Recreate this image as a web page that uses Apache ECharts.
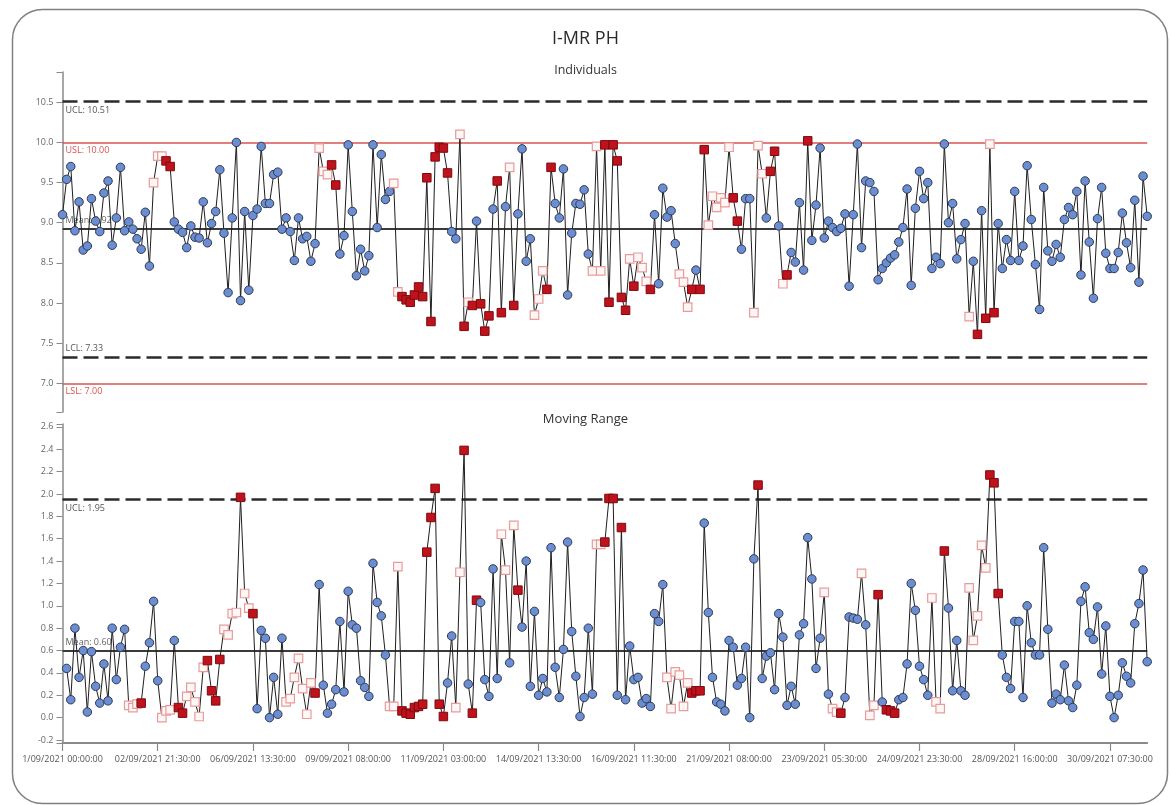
<!DOCTYPE html>
<html>
<head>
<meta charset="utf-8">
<script src="https://cdn.jsdelivr.net/npm/echarts@6/dist/echarts.min.js"></script>
<style>
html,body{margin:0;padding:0;background:#fff;}
#chart{width:1171px;height:805px;}
</style>
</head>
<body>
<div id="chart"></div>
<script>
// ---------- DATA ----------
const tickLabels = [
  '1/09/2021 00:00:00','02/09/2021 21:30:00','06/09/2021 13:30:00','09/09/2021 08:00:00',
  '11/09/2021 03:00:00','14/09/2021 13:30:00','16/09/2021 11:30:00','21/09/2021 08:00:00',
  '23/09/2021 05:30:00','24/09/2021 23:30:00','28/09/2021 16:00:00','30/09/2021 07:30:00'
];
const pointsPerLabel = 23;

const individuals = [
  9.10,9.54,9.70,8.90,9.26,8.66,8.71,9.30,9.02,8.89,
  9.37,9.52,8.72,9.06,9.69,8.90,9.01,8.92,8.80,8.67,
  9.13,8.46,9.50,9.83,9.83,9.77,9.70,9.01,8.92,8.88,
  8.69,8.96,8.82,8.81,9.26,8.75,8.99,9.14,9.66,8.87,
  8.13,9.06,10.00,8.03,9.14,8.16,9.09,9.17,9.95,9.24,
  9.24,9.60,9.63,8.92,9.06,8.89,8.53,9.06,8.80,8.83,
  8.52,8.74,9.93,9.64,9.60,9.72,9.47,8.61,8.84,9.97,
  9.14,8.34,8.67,8.40,8.59,9.97,8.94,9.85,9.29,9.39,
  9.49,8.14,8.08,8.04,8.01,8.10,8.20,8.08,9.56,7.77,
  9.82,9.94,9.93,9.62,8.89,8.80,10.10,7.71,8.01,7.97,
  9.02,7.99,7.65,7.84,9.17,9.52,7.88,9.20,9.69,7.97,
  9.11,9.92,8.52,8.80,7.85,8.05,8.40,8.17,9.69,9.24,
  9.06,9.67,8.10,8.87,9.24,9.23,9.41,8.61,8.40,9.95,
  8.40,9.97,8.01,9.97,9.77,8.07,7.91,8.55,8.21,8.57,
  8.44,8.27,8.17,9.10,8.24,9.43,9.07,9.15,8.74,8.36,
  8.26,7.95,8.17,8.41,8.17,9.91,8.97,9.33,9.19,9.31,
  9.25,9.94,9.31,9.02,8.67,9.30,9.30,7.88,9.96,9.61,
  9.06,9.64,9.89,8.96,8.24,8.35,8.63,8.51,9.25,8.41,
  10.02,8.78,9.22,9.93,8.81,9.02,8.94,8.89,8.93,9.11,
  8.21,9.10,9.98,8.69,9.52,9.50,9.39,8.29,8.43,8.50,
  8.56,8.60,8.76,8.94,9.42,8.22,9.18,9.64,9.30,9.50,
  8.43,8.57,8.49,9.98,9.00,9.24,8.55,8.79,8.99,7.83,
  8.52,7.61,9.15,7.81,9.98,7.88,8.99,8.43,8.79,8.53,
  9.39,8.53,8.71,9.71,9.04,8.48,7.92,9.44,8.65,8.52,
  8.73,8.57,9.04,9.19,9.10,9.39,8.35,9.52,8.76,8.06,
  9.05,9.44,8.62,8.43,8.43,8.63,9.12,8.75,8.44,9.28,
  8.26,9.58,9.08
];

const movingRange = [
  null,0.44,0.16,0.80,0.36,0.60,0.05,0.59,0.28,0.13,
  0.48,0.15,0.80,0.34,0.63,0.79,0.11,0.09,0.12,0.13,
  0.46,0.67,1.04,0.33,0.00,0.06,0.07,0.69,0.09,0.04,
  0.19,0.27,0.14,0.01,0.45,0.51,0.24,0.15,0.52,0.79,
  0.74,0.93,0.94,1.97,1.11,0.98,0.93,0.08,0.78,0.71,
  0.00,0.36,0.03,0.71,0.14,0.17,0.36,0.53,0.26,0.03,
  0.31,0.22,1.19,0.29,0.04,0.12,0.25,0.86,0.23,1.13,
  0.83,0.80,0.33,0.27,0.19,1.38,1.03,0.91,0.56,0.10,
  0.10,1.35,0.06,0.04,0.03,0.09,0.10,0.12,1.48,1.79,
  2.05,0.12,0.01,0.31,0.73,0.09,1.30,2.39,0.30,0.04,
  1.05,1.03,0.34,0.19,1.33,0.35,1.64,1.32,0.49,1.72,
  1.14,0.81,1.40,0.28,0.95,0.20,0.35,0.23,1.52,0.45,
  0.18,0.61,1.57,0.77,0.37,0.01,0.18,0.80,0.21,1.55,
  1.55,1.57,1.96,1.96,0.20,1.70,0.16,0.64,0.34,0.36,
  0.13,0.17,0.10,0.93,0.86,1.19,0.36,0.08,0.41,0.38,
  0.10,0.31,0.22,0.24,0.24,1.74,0.94,0.36,0.14,0.12,
  0.06,0.69,0.63,0.29,0.35,0.63,0.00,1.42,2.08,0.35,
  0.55,0.58,0.25,0.93,0.72,0.11,0.28,0.12,0.74,0.84,
  1.61,1.24,0.44,0.71,1.12,0.21,0.08,0.05,0.04,0.18,
  0.90,0.89,0.88,1.29,0.83,0.02,0.11,1.10,0.14,0.07,
  0.06,0.04,0.16,0.18,0.48,1.20,0.96,0.46,0.34,0.20,
  1.07,0.14,0.08,1.49,0.98,0.24,0.69,0.24,0.20,1.16,
  0.69,0.91,1.54,1.34,2.17,2.10,1.11,0.56,0.36,0.26,
  0.86,0.86,0.18,1.00,0.67,0.56,0.56,1.52,0.79,0.13,
  0.21,0.16,0.47,0.15,0.09,0.29,1.04,1.17,0.76,0.70,
  0.99,0.39,0.82,0.19,0.00,0.20,0.49,0.37,0.31,0.84,
  1.02,1.32,0.50
];

// point status: 0 = in control, 1 = run-rule warning, 2 = out-of-control signal
const individualsFlags = [
  0,0,0,0,0,0,0,0,0,0, 0,0,0,0,0,0,0,0,0,0,
  0,0,1,1,1,2,2,0,0,0, 0,0,0,0,0,0,0,0,0,0,
  0,0,0,0,0,0,0,0,0,0, 0,0,0,0,0,0,0,0,0,0,
  0,0,1,1,1,2,2,0,0,0, 0,0,0,0,0,0,0,0,0,0,
  1,1,2,2,2,2,2,2,2,2, 2,2,2,2,0,0,1,2,1,2,
  0,2,2,2,0,2,2,0,1,2, 0,0,0,0,1,1,1,2,2,0,
  0,0,0,0,0,0,0,0,1,1, 1,2,2,2,2,2,2,1,2,1,
  1,1,2,0,0,0,0,0,0,1, 1,1,2,0,2,2,1,1,1,1,
  1,1,2,2,0,0,0,1,1,1, 0,2,2,0,1,2,0,0,0,0,
  2,0,0,0,0,0,0,0,0,0, 0,0,0,0,0,0,0,0,0,0,
  0,0,0,0,0,0,0,0,0,0, 0,0,0,0,0,0,0,0,0,1,
  0,2,0,2,1,2,0,0,0,0, 0,0,0,0,0,0,0,0,0,0,
  0,0,0,0,0,0,0,0,0,0, 0,0,0,0,0,0,0,0,0,0,
  0,0,0
];

const movingRangeFlags = [
  0,0,0,0,0,0,0,0,0,0, 0,0,0,0,0,0,1,1,1,2,
  0,0,0,0,1,1,1,0,2,2, 1,1,1,1,1,2,2,2,2,1,
  1,1,1,2,1,1,2,0,0,0, 0,0,0,0,1,1,1,1,1,1,
  1,2,0,0,0,0,0,0,0,0, 0,0,0,0,0,0,0,0,0,1,
  1,1,2,2,2,2,2,2,2,2, 2,2,2,0,0,1,1,2,0,2,
  2,0,0,0,0,0,1,1,0,1, 2,0,0,0,0,0,0,0,0,0,
  0,0,0,0,0,0,0,0,0,1, 1,2,2,2,0,2,0,0,0,0,
  0,0,0,0,0,0,1,1,1,1, 1,1,2,2,2,0,0,0,0,0,
  0,0,0,0,0,0,0,0,2,0, 0,0,0,0,0,0,0,0,0,0,
  0,0,0,0,1,0,1,1,2,0, 0,0,0,1,0,1,1,2,0,2,
  2,2,0,0,0,0,0,0,0,0, 1,1,1,2,0,0,0,0,0,1,
  1,1,1,1,2,2,2,0,0,0, 0,0,0,0,0,0,0,0,0,0,
  0,0,0,0,0,0,0,0,0,0, 0,0,0,0,0,0,0,0,0,0,
  0,0,0
];

const individualsLimits = [
  {name:'UCL', value:10.51, kind:'ctrl', side:'below'},
  {name:'USL', value:10.00, kind:'spec', side:'below'},
  {name:'Mean', value:8.92, kind:'mean', side:'above'},
  {name:'LCL', value:7.33, kind:'ctrl', side:'above'},
  {name:'LSL', value:7.00, kind:'spec', side:'below'}
];
const movingRangeLimits = [
  {name:'UCL', value:1.95, kind:'ctrl', side:'below'},
  {name:'Mean', value:0.60, kind:'mean', side:'above'}
];

const individualsTicks = [7.0,7.5,8.0,8.5,9.0,9.5,10.0,10.5];
const movingRangeTicks = [-0.2,0.0,0.2,0.4,0.6,0.8,1.0,1.2,1.4,1.6,1.8,2.0,2.2,2.4,2.6];

// ---------- STYLES ----------
const INDY = {min:6.643, max:10.877};
const MRY = {min:-0.227, max:2.626};
const markerStyles = [
  {symbol:'circle', itemStyle:{color:'#6b8dd1', borderColor:'#2f3b55', borderWidth:1}},
  {symbol:'rect', itemStyle:{color:'#fff6f6', borderColor:'#e79c9c', borderWidth:1.2}},
  {symbol:'rect', itemStyle:{color:'#c0121c', borderColor:'#7c0a0f', borderWidth:1}}
];
const lineStyles = {
  ctrl:{color:'#2b2b2b', width:2.5, type:[15,6]},
  spec:{color:'#d9534f', width:1.5, type:'solid'},
  mean:{color:'#3a3a3a', width:2, type:'solid'}
};
const labelColors = {ctrl:'#555', spec:'#d9534f', mean:'#666'};

function buildPoints(values, flags){
  return values.map((v,i)=>{
    if (v === null) return {value:null};
    const s = markerStyles[flags[i]];
    return {value:v, symbol:s.symbol, itemStyle:s.itemStyle};
  });
}
function buildMarkLines(limits){
  return limits.map(l=>({
    yAxis:l.value,
    lineStyle:lineStyles[l.kind],
    label:{
      show:true,
      position: l.side==='below' ? 'insideStartBottom' : 'insideStartTop',
      formatter: l.name + ': ' + l.value.toFixed(2),
      color: labelColors[l.kind],
      fontSize:9,
      fontFamily:'Open Sans, Noto Sans, sans-serif',
      distance:[3,4]
    }
  }));
}

const categories = individuals.map((_,i)=>i);
const axisFont = 'Open Sans, Noto Sans, sans-serif';

const chart = echarts.init(document.getElementById('chart'), null, {renderer:'canvas'});
chart.setOption({
  animation:false,
  backgroundColor:'#ffffff',
  title:[
    {text:'I-MR PH', left:'center', top:25, textStyle:{fontSize:18, fontWeight:'normal', color:'#2a2a2a', fontFamily:axisFont}},
    {text:'Individuals', left:'center', top:59, textStyle:{fontSize:12.5, fontWeight:'normal', color:'#333', fontFamily:axisFont}},
    {text:'Moving Range', left:'center', top:408, textStyle:{fontSize:13, fontWeight:'normal', color:'#333', fontFamily:axisFont}}
  ],
  graphic:[{
    type:'rect', left:10, top:7, z:-1, silent:true,
    shape:{width:1155, height:794, r:30},
    style:{fill:'none', stroke:'#808080', lineWidth:1.5}
  }],
  grid:[
    {left:62.5, right:23.8, top:72, height:340},
    {left:62.5, right:23.8, top:424, height:319}
  ],
  xAxis:[
    {type:'category', gridIndex:0, data:categories, boundaryGap:false, show:false},
    {type:'category', gridIndex:1, data:categories, boundaryGap:false,
     axisLine:{onZero:false, lineStyle:{color:'#8a8a8a', width:2}},
     axisTick:{interval:pointsPerLabel-1, length:8, lineStyle:{color:'#8a8a8a', width:1.2}},
     axisLabel:{interval:pointsPerLabel-1, fontSize:9, color:'#555', margin:12, fontFamily:axisFont,
       formatter:(v,i)=> tickLabels[Math.round(i/pointsPerLabel)] || ''},
     splitLine:{show:false}}
  ],
  yAxis:[
    {type:'value', gridIndex:0, min:INDY.min, max:INDY.max,
     axisLine:{show:true, lineStyle:{color:'#8a8a8a', width:1.5}},
     axisTick:{show:true, length:6, customValues:[INDY.min].concat(individualsTicks,[INDY.max]), lineStyle:{color:'#8a8a8a'}},
     axisLabel:{customValues:individualsTicks, fontSize:9, color:'#666', margin:9, fontFamily:axisFont,
       formatter:v=>Number(v).toFixed(1)},
     splitLine:{show:false}},
    {type:'value', gridIndex:1, min:MRY.min, max:MRY.max,
     axisLine:{show:true, lineStyle:{color:'#8a8a8a', width:1.5}},
     axisTick:{show:true, length:6, customValues:[MRY.min].concat(movingRangeTicks,[MRY.max]), lineStyle:{color:'#8a8a8a'}},
     axisLabel:{customValues:movingRangeTicks, fontSize:9, color:'#666', margin:9, fontFamily:axisFont,
       formatter:v=>Number(v).toFixed(1)},
     splitLine:{show:false}}
  ],
  series:[
    {type:'line', xAxisIndex:0, yAxisIndex:0, data:[], z:1, silent:true,
     markLine:{silent:true, symbol:'none', z:1, animation:false, data:buildMarkLines(individualsLimits)}},
    {type:'line', xAxisIndex:1, yAxisIndex:1, data:[], z:1, silent:true,
     markLine:{silent:true, symbol:'none', z:1, animation:false, data:buildMarkLines(movingRangeLimits)}},
    {name:'Individuals', type:'line', xAxisIndex:0, yAxisIndex:0, z:3,
     data:buildPoints(individuals, individualsFlags),
     symbolSize:8.5, showAllSymbol:true, connectNulls:false,
     lineStyle:{color:'#1e1e1e', width:1}, emphasis:{disabled:true}},
    {name:'Moving Range', type:'line', xAxisIndex:1, yAxisIndex:1, z:3,
     data:buildPoints(movingRange, movingRangeFlags),
     symbolSize:8.5, showAllSymbol:true, connectNulls:false,
     lineStyle:{color:'#1e1e1e', width:1}, emphasis:{disabled:true}}
  ]
});
</script>
</body>
</html>
